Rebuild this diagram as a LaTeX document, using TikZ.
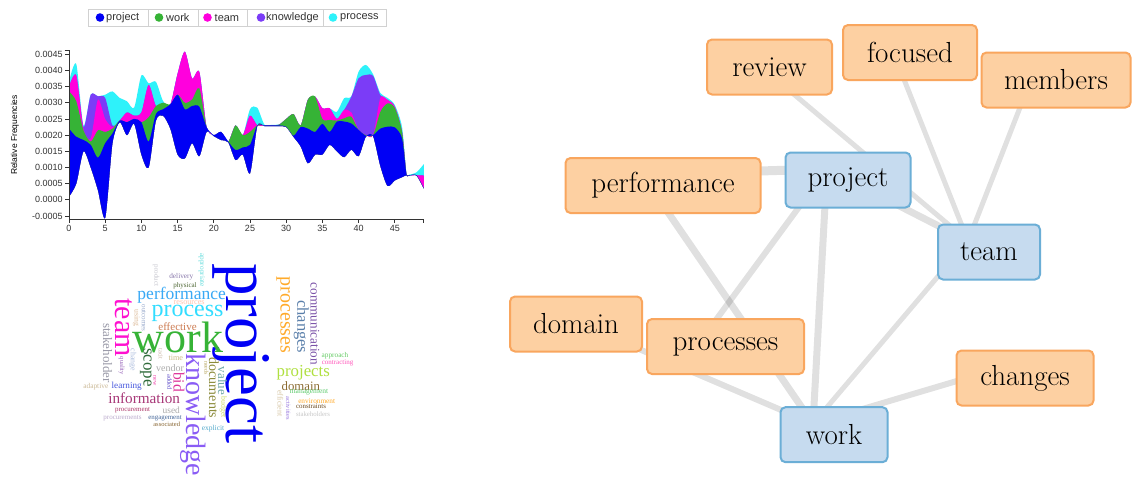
\documentclass[tikz,border=0pt]{standalone}
\usepackage{fontspec}
\newfontfamily\sansf{Liberation Sans}
\newfontfamily\cloudf{Liberation Serif}
\usetikzlibrary{calc}
\pgfdeclarelayer{bg}
\pgfsetlayers{bg,main}
\definecolor{sBlue}{HTML}{0000F5}
\definecolor{sGreen}{HTML}{36B336}
\definecolor{sMag}{HTML}{FF00DD}
\definecolor{sPur}{HTML}{7B3CF7}
\definecolor{sCyan}{HTML}{2EF2FA}
\definecolor{oFill}{HTML}{FDD0A2}
\definecolor{oDraw}{HTML}{F9A65E}
\definecolor{bFill}{HTML}{C6DBEF}
\definecolor{bDraw}{HTML}{6BAED6}
\definecolor{axisC}{HTML}{333333}
\newcommand{\cloudword}[7]{\node[inner sep=0pt, font=\cloudf\fontsize{#5}{#5}\selectfont, rotate=#4] (#1) at (#2,#3) {\color[HTML]{#6}#7};}
\newcommand{\stacklayer}[2]{\edef\tmplayer{\noexpand\fill[#1] plot[smooth,tension=0.45] coordinates {#2} -- plot[smooth,tension=0.45] coordinates {\Bzero} -- cycle;}\tmplayer}
\def\Bzero{(49,3.5) (48,7.5) (47,7.5) (46.6,7.6) (46,7) (45,6) (44,4.3) (43,10.5) (42,19.7) (41,19.5) (40,13.5) (39,15.5) (38,13.2) (37,15) (36,17) (35,14) (34,14) (33,11.3) (32,16.5) (31,19.5) (30,22.5) (29,22.8) (28,22.8) (27,22.8) (26,22.8) (25,8.2) (24,14) (23,12.3) (22,17.8) (21,18.5) (20,19.7) (19,21) (18,13.5) (17,17.5) (16,12.8) (15,14) (14,22) (13,26) (12,24.5) (11,10) (10,14) (9,23.5) (8,20) (7,24) (6,17.5) (5,-5.5) (4,3) (3,10) (2,15) (1,5) (0,1)}
\def\Bone{(0,22) (1,19.5) (2,18.5) (3,17) (4,13) (5,17.5) (6,20.5) (7,24.5) (8,24) (9,25) (10,24) (11,18) (12,26.5) (13,28) (14,29.5) (15,32.5) (16,28) (17,29) (18,28.8) (19,22.5) (20,20) (21,21) (22,18) (23,15.4) (24,16.2) (25,17) (26,23) (27,23) (28,23) (29,23) (30,22.6) (31,19.8) (32,22.5) (33,22) (34,21) (35,23.5) (36,21) (37,24.2) (38,24.2) (39,23.6) (40,21.6) (41,19.8) (42,20) (43,22) (44,22.6) (45,22.4) (46,19) (46.6,8) (47,7.6) (48,7.6) (49,3.6)}
\def\Btwo{(0,33.5) (1,30.5) (2,21.5) (3,18) (4,21.5) (5,21) (6,22) (7,24.5) (8,24) (9,25) (10,24) (11,25.5) (12,29) (13,30) (14,29.5) (15,32.5) (16,30) (17,31) (18,34.5) (19,22.5) (20,20) (21,21) (22,18) (23,23) (24,20) (25,21) (26,23) (27,23) (28,23) (29,23.2) (30,25) (31,26.5) (32,23) (33,31) (34,31.9) (35,25) (36,24.7) (37,24.5) (38,25.2) (39,25.7) (40,21.6) (41,20) (42,20) (43,27.2) (44,29.8) (45,28.4) (46,21) (46.6,8.1) (47,7.6) (48,7.6) (49,3.6)}
\def\Bthree{(0,35) (1,38.5) (2,22) (3,19) (4,31) (5,25) (6,22.5) (7,24.5) (8,27) (9,26) (10,27) (11,35.5) (12,29) (13,30) (14,29.5) (15,39) (16,45.8) (17,37.5) (18,39.5) (19,22.5) (20,20) (21,21) (22,18) (23,23) (24,20) (25,26) (26,23) (27,23) (28,23) (29,23.2) (30,25) (31,26.5) (32,23) (33,31) (34,31.9) (35,28.3) (36,28.3) (37,25) (38,27.8) (39,27) (40,21.6) (41,20) (42,20) (43,31.5) (44,30.9) (45,28.8) (46,21) (46.6,8.1) (47,7.6) (48,7.6) (49,7.5)}
\def\Bfour{(0,35) (1,38.5) (2,22.5) (3,32.5) (4,32) (5,31.5) (6,23) (7,24.5) (8,27) (9,26) (10,27) (11,35.5) (12,29) (13,30) (14,29.5) (15,39) (16,45.8) (17,37.5) (18,39.5) (19,22.5) (20,20) (21,21) (22,18) (23,23) (24,20) (25,26) (26,23) (27,23) (28,23) (29,23.2) (30,25) (31,26.5) (32,23) (33,31) (34,31.9) (35,28.3) (36,28.3) (37,25) (38,27.8) (39,31.9) (40,37.6) (41,38.6) (42,38.3) (43,32.4) (44,30.9) (45,28.8) (46,21) (46.6,8.1) (47,7.6) (48,7.6) (49,7.5)}
\def\Bfive{(0,36.5) (1,42) (2,23) (3,32.5) (4,32) (5,32.5) (6,33.5) (7,31.5) (8,30.5) (9,28.5) (10,38.5) (11,36) (12,36.5) (13,30.5) (14,29.5) (15,39) (16,45.8) (17,37.5) (18,39.5) (19,22.5) (20,20) (21,21) (22,18) (23,23) (24,20) (25,28) (26,28.5) (27,23.2) (28,23.2) (29,23.3) (30,25) (31,26.5) (32,23) (33,31) (34,31.9) (35,28.3) (36,28.3) (37,27.2) (38,31.4) (39,32) (40,39.6) (41,41.7) (42,38.8) (43,33) (44,31.5) (45,29.3) (46,22.5) (46.6,8.3) (47,7.8) (48,8.5) (49,11)}
\begin{document}
\begin{tikzpicture}[x=1pt,y=-1pt,
  nbox/.style={line width=2pt, rounded corners=5pt, minimum height=55pt, inner sep=0pt, font=\fontsize{29}{29}\selectfont},
  orangebox/.style={nbox, fill=oFill, draw=oDraw},
  bluebox/.style={nbox, fill=bFill, draw=bDraw},
  link/.style={draw=black, draw opacity=0.12, line cap=butt},
  axisline/.style={draw=axisC, line width=0.8pt},
  ticklab/.style={font=\sansf\fontsize{9}{9}\selectfont, text=axisC, inner sep=0pt},
  leglab/.style={font=\sansf\fontsize{11}{11}\selectfont, text=black!80, anchor=west, inner sep=0pt}]
\useasboundingbox (0,0) rectangle (1132,479);

% ---------------- network ----------------
\node[orangebox, minimum width=125pt] (review) at (769.5,67) {review};
\node[orangebox, minimum width=134pt] (focused) at (910,52.5) {focused};
\node[orangebox, minimum width=149pt] (members) at (1056,80) {members};
\node[orangebox, minimum width=195pt] (performance) at (663,185.5) {performance};
\node[bluebox, minimum width=125pt] (project) at (848,180) {project};
\node[bluebox, minimum width=102pt] (team) at (989,252) {team};
\node[orangebox, minimum width=132pt] (domain) at (576,324) {domain};
\node[orangebox, minimum width=157pt] (processes) at (725.5,346.5) {processes};
\node[orangebox, minimum width=137pt] (changes) at (1025,378) {changes};
\node[bluebox, minimum width=107pt] (work) at (834,434.7) {work};
\foreach \n in {review,focused,members,performance,project,team,domain,processes,changes,work}
  \coordinate (\n-a) at ($(\n.center)+(-21,-11)$);

\begin{pgfonlayer}{bg}
\fill[white] (0,0) rectangle (1132,479);
\draw[link, line width=9pt] (performance-a) -- (project-a);
\draw[link, line width=7pt] (project-a) -- (team-a);
\draw[link, line width=5pt] (review-a) -- (team-a);
\draw[link, line width=5pt] (focused-a) -- (team-a);
\draw[link, line width=5pt] (members-a) -- (team-a);
\draw[link, line width=7pt] (performance-a) -- (work-a);
\draw[link, line width=6pt] (project-a) -- (processes-a);
\draw[link, line width=7pt] (project-a) -- (work-a);
\draw[link, line width=5pt] (team-a) -- (work-a);
\draw[link, line width=6pt] (domain-a) -- (work-a);
\draw[link, line width=6pt] (changes-a) -- (work-a);
\end{pgfonlayer}

% ---------------- legend ----------------
\draw[draw=black!18, fill=white] (88,9) rectangle (386,26);
\foreach \xx in {148.3,197.7,246.7,322.7} \draw[black!18] (\xx,9) -- (\xx,26);
\fill[sBlue] (100,17.5) circle (4.3pt);
\fill[sGreen] (159,17.5) circle (4.3pt);
\fill[sMag] (207.5,17.5) circle (4.3pt);
\fill[sPur] (261,17.5) circle (4.3pt);
\fill[sCyan] (333,17.5) circle (4.3pt);
\node[leglab] (lg1) at (106,17.5) {project};
\node[leglab] (lg2) at (166,17.5) {work};
\node[leglab] (lg3) at (214.5,17.5) {team};
\node[leglab] (lg4) at (266,17.5) {knowledge};
\node[leglab] (lg5) at (340,17.5) {process};

% ---------------- stream chart ----------------
\begin{scope}[shift={(69pt,-199.8pt)}, x=7.24pt, y=3.234pt]
\stacklayer{sCyan}{\Bfive}
\stacklayer{sPur}{\Bfour}
\stacklayer{sMag}{\Bthree}
\stacklayer{sGreen}{\Btwo}
\stacklayer{sBlue}{\Bone}
\draw[axisline] (-0.6,46.3) -- (0,46.3) -- (0,-5.95) -- (49,-5.95) -- (49,-7.2);
\draw[axisline] (0,-5.95) -- (0,-7.2);
\foreach \v/\lab [count=\k] in {-5/-0.0005,0/0.0000,5/0.0005,10/0.0010,15/0.0015,20/0.0020,25/0.0025,30/0.0030,35/0.0035,40/0.0040,45/0.0045}{
  \draw[axisline] (0,\v) -- (-0.6,\v);
  \node[ticklab, anchor=east] (yl\k) at (-0.85,\v) {\lab};
}
\foreach \t [count=\k] in {0,5,10,15,20,25,30,35,40,45}{
  \draw[axisline] (\t,-5.95) -- (\t,-7.2);
  \node[ticklab, anchor=north] (xl\k) at (\t,-7.8) {\t};
}
\end{scope}
\node[font=\sansf\fontsize{8.5}{8.5}\selectfont, rotate=90, inner sep=0pt] (ylabel) at (15,135) {Relative Frequencies};

% ---------------- word cloud ----------------
\cloudword{c1}{241}{353.5}{-90}{65}{0000F5}{project}
\cloudword{c2}{178}{337}{0}{44}{36B336}{work}
\cloudword{c3}{193}{414.5}{-90}{28}{8A5CF5}{knowledge}
\cloudword{c4}{124}{327.5}{-90}{30}{FF10D0}{team}
\cloudword{c5}{187.5}{313.3}{0}{24}{33DDFF}{process}
\cloudword{c6}{181.7}{295.3}{0}{17.5}{39A9F5}{performance}
\cloudword{c7}{283.3}{315}{-90}{20}{FFAA2A}{processes}
\cloudword{c8}{301.3}{326.7}{-90}{16.5}{5A7FAA}{changes}
\cloudword{c9}{315}{324}{-90}{13.2}{7B52A8}{communication}
\cloudword{c10}{303.3}{372.5}{0}{16.8}{B0E040}{projects}
\cloudword{c11}{300.8}{385.8}{0}{12.8}{8B6B32}{domain}
\cloudword{c12}{309}{392.5}{0}{7.5}{5FCB6F}{management}
\cloudword{c13}{316.7}{400.8}{0}{7.3}{FFAA2A}{environment}
\cloudword{c14}{311}{406.3}{0}{6.9}{6B4A1F}{constraints}
\cloudword{c15}{313}{414.2}{0}{6.8}{C8C8C8}{stakeholders}
\cloudword{c16}{280.3}{403.3}{-90}{8}{D8C8A8}{efficient}
\cloudword{c17}{288.3}{408.3}{-90}{6.5}{9A7AE0}{activities}
\cloudword{c18}{335}{355.5}{0}{7.3}{66CC66}{approach}
\cloudword{c19}{337.5}{363}{0}{7}{FF55BB}{contracting}
\cloudword{c20}{222.5}{381}{-90}{13}{70A8A8}{value}
\cloudword{c21}{214}{388}{-90}{14}{8C8C3C}{documents}
\cloudword{c22}{223.3}{407.3}{-90}{7.8}{CCDD66}{budget}
\cloudword{c23}{213}{428.5}{0}{7.5}{55AACC}{explicit}
\cloudword{c24}{206.5}{368}{-90}{6}{BBAA66}{needs}
\cloudword{c25}{145.8}{367.5}{-90}{17}{2F6B3A}{scope}
\cloudword{c26}{179}{382}{-90}{15.6}{DD3399}{bid}
\cloudword{c27}{144.2}{398.3}{0}{15.2}{A83878}{information}
\cloudword{c28}{107.5}{353}{-90}{13}{9A9AA8}{stakeholder}
\cloudword{c29}{126.7}{385.8}{0}{9.2}{4455DD}{learning}
\cloudword{c30}{170}{368.3}{0}{10}{AAAAAA}{vendor}
\cloudword{c31}{175.8}{357.5}{0}{8.2}{CCBB88}{time}
\cloudword{c32}{177.5}{327}{0}{11}{CC7A50}{effective}
\cloudword{c33}{189.2}{302.5}{0}{8.2}{FFC4B0}{resources}
\cloudword{c34}{181.3}{277}{0}{7.3}{8877AA}{delivery}
\cloudword{c35}{185}{286.3}{0}{7}{4D6633}{physical}
\cloudword{c36}{201.7}{270}{-90}{7.3}{66DDDD}{appropriate}
\cloudword{c37}{156}{275.8}{-90}{7.1}{C8C8D0}{product}
\cloudword{c38}{143.8}{318.3}{-90}{7}{99AACC}{outcomes}
\cloudword{c39}{136.3}{318.3}{-90}{7.7}{DDBB99}{using}
\cloudword{c40}{132.8}{360}{-90}{7.8}{AABBDD}{change}
\cloudword{c41}{121.7}{366}{-90}{6.5}{9966BB}{quality}
\cloudword{c42}{160.7}{354}{-90}{6.5}{CCBBAA}{tacit}
\cloudword{c43}{154.7}{380.8}{-90}{6}{EE44AA}{new}
\cloudword{c44}{169.5}{382}{-90}{6.5}{6655CC}{added}
\cloudword{c45}{171.3}{410}{0}{9.4}{AAAAAA}{used}
\cloudword{c46}{132.5}{410}{0}{6.9}{AA3366}{procurement}
\cloudword{c47}{122.5}{418.3}{0}{7}{BBAACC}{procurements}
\cloudword{c48}{165}{418.3}{0}{6.9}{446699}{engagement}
\cloudword{c49}{166.7}{424.2}{0}{6.5}{886633}{associated}
\cloudword{c50}{95.8}{386.5}{0}{7.4}{CCBB99}{adaptive}
\end{tikzpicture}
\end{document}
